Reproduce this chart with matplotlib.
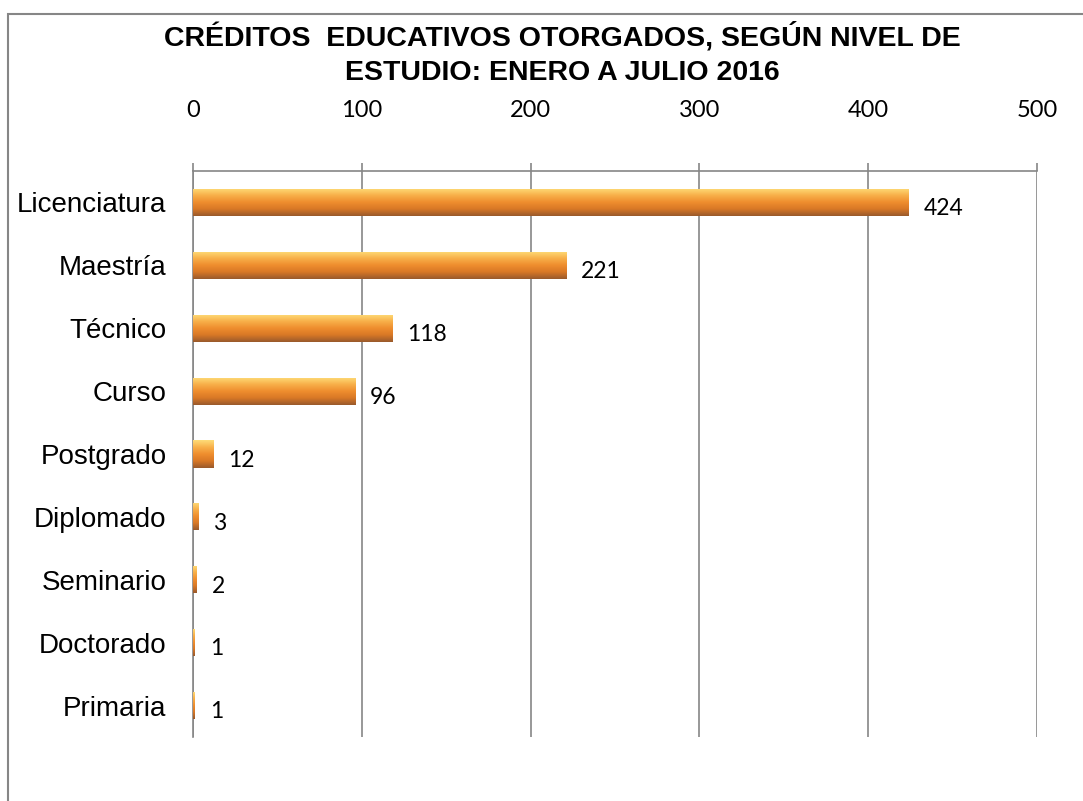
"""
Créditos educativos otorgados, según nivel de estudio: enero a julio 2016
"""
import matplotlib
matplotlib.use('Agg')
import matplotlib.pyplot as plt
import numpy as np
from matplotlib.colors import LinearSegmentedColormap
from matplotlib.patches import Rectangle

# Datos
niveles = ['Licenciatura', 'Maestría', 'Técnico', 'Curso', 'Postgrado',
           'Diplomado', 'Seminario', 'Doctorado', 'Primaria']
creditos = [424, 221, 118, 96, 12, 3, 2, 1, 1]
ticks_x = [0, 100, 200, 300, 400, 500]

TITULO = 'CRÉDITOS  EDUCATIVOS OTORGADOS, SEGÚN NIVEL DE\nESTUDIO: ENERO A JULIO 2016'

# Degradado naranja (arriba claro -> abajo oscuro)
grad_cmap = LinearSegmentedColormap.from_list(
    'naranja', ['#fedc78', '#f8b04a', '#ef8e2e', '#d97826', '#9a5a2c'])

fig = plt.figure(figsize=(10.83, 8.01), dpi=100)
ax = fig.add_axes([0.1782, 0.0799, 0.9575 - 0.1782, 0.7865 - 0.0799])

y = np.arange(len(niveles))
bars = ax.barh(y, creditos, height=0.43, color='#ee8a2c', edgecolor='none', zorder=3)

# Relleno con degradado vertical en cada barra
grad = np.linspace(0, 1, 64).reshape(-1, 1)
for b in bars:
    x0, y0 = b.get_x(), b.get_y()
    w, h = b.get_width(), b.get_height()
    im = ax.imshow(grad, cmap=grad_cmap, aspect='auto', origin='upper',
                   extent=(x0, x0 + w, y0 + h, y0), zorder=4, interpolation='bilinear')
    im.set_clip_path(b)

# Etiquetas de valores
for yi, v in zip(y, creditos):
    ax.text(v + 9, yi + 0.1, str(v), va='center', ha='left',
            fontsize=16.5, family=['Lato', 'DejaVu Sans'], color='black', zorder=5)

ax.set_xlim(0, 500)
ax.set_ylim(len(niveles) - 0.5, -0.5)
ax.set_xticks(ticks_x)
ax.xaxis.tick_top()
ax.tick_params(axis='x', which='both', length=6, width=1.2, color='#868686',
               pad=30, labelsize=17)
for lab in ax.get_xticklabels():
    lab.set_family(['Lato', 'DejaVu Sans'])
ax.set_yticks(y)
ax.set_yticklabels(niveles, fontsize=20, family=['Liberation Sans', 'DejaVu Sans'])
ax.tick_params(axis='y', length=0, pad=19)

ax.grid(axis='x', color='#868686', linewidth=1.2, zorder=0)
ax.set_axisbelow(True)
for s in ['right', 'bottom']:
    ax.spines[s].set_visible(False)
for s in ['top', 'left']:
    ax.spines[s].set_color('#868686')
    ax.spines[s].set_linewidth(1.2)

fig.text(0.519, 0.972, TITULO, ha='center', va='top', fontsize=20.5, fontweight='bold',
         family=['Liberation Sans Narrow', 'Liberation Sans', 'DejaVu Sans'],
         linespacing=1.4)

# Borde del área del gráfico
fig.patches.append(Rectangle((8 / 1083, -0.05), 1.2, 1 - 14 / 801 + 0.05,
                             transform=fig.transFigure, fill=False,
                             edgecolor='#868686', linewidth=1.5))

fig.savefig('out.png', dpi=100)
